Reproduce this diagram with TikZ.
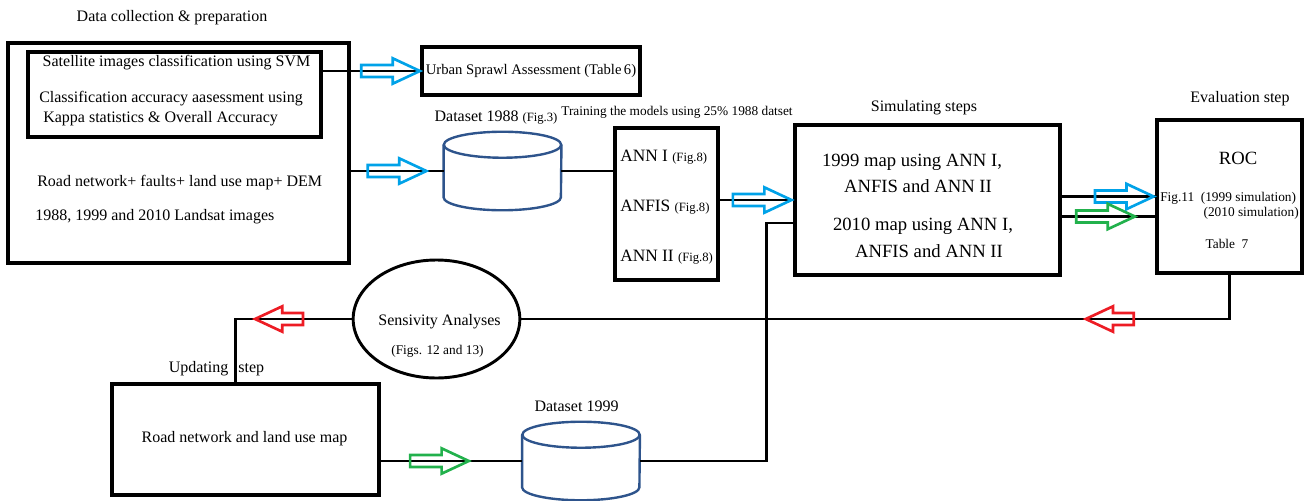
\documentclass[tikz,border=0pt]{standalone}
\usepackage{fontspec}
\setmainfont{Liberation Serif}
\usetikzlibrary{shapes.geometric,shapes.arrows,fit,calc}
\definecolor{paintblue}{RGB}{0,162,232}
\definecolor{paintgreen}{RGB}{34,177,76}
\definecolor{paintred}{RGB}{237,28,36}
\definecolor{dbblue}{RGB}{46,84,140}
\newcommand{\figsmall}[1]{{\fontsize{9.5}{11}\selectfont #1}}
\newcommand{\dbdraw}[1]{%
  \draw[dbline] ($(#1.north)+(0,13)$) ellipse [x radius=44pt, y radius=9.75pt];
  \draw[dbline] ($(#1.north west)+(0,13)$) -- ($(#1.south west)+(0,-13)$)
    arc[start angle=180, end angle=360, x radius=44pt, y radius=9.75pt] -- ($(#1.north east)+(0,13)$);
}
\begin{document}
\begin{tikzpicture}[x=0.75pt, y=-0.75pt,
    box/.style={draw, line width=2.6pt, inner sep=0pt},
    conn/.style={line width=2.2pt},
    txt/.style={font=\fontsize{12}{14}\selectfont, inner sep=0pt},
    bigtxt/.style={font=\fontsize{14}{17}\selectfont, inner sep=0pt},
    smalltxt/.style={font=\fontsize{10}{12}\selectfont, inner sep=0pt},
    database/.style={rectangle, minimum width=88pt, minimum height=58.5pt, inner sep=0pt},
    dbline/.style={draw=dbblue, line width=1.8pt},
    hollow/.style={single arrow, draw=#1, line width=2pt, inner xsep=0pt, inner ysep=3.5pt, minimum height=44pt, single arrow head extend=5pt, single arrow tip angle=50},
    ]
  \useasboundingbox (0,0) rectangle (1307,500);

  \node[box, fit={(8,43) (349,263)}] (collect) {};
  \node[box, fit={(28,52) (321,137)}] (prep) {};
  \node[box, fit={(422,47) (640,95)}, label={[inner sep=0pt, font=\fontsize{11}{13}\selectfont]center:Urban Sprawl Assessment (Table\,6)}] (urban) {};
  \node[database] (db88) at (502.5,171) {};
  \dbdraw{db88}
  \node[box, fit={(615,128) (718,280)}] (ann) {};
  \node[box, fit={(795,125) (1060,275)}] (sim) {};
  \node[box, fit={(1157,120) (1302,273)}] (roc) {};
  \node[ellipse, draw, line width=2.2pt, minimum width=125pt, minimum height=88.5pt, inner sep=0pt] (sens) at (436.5,319) {};
  \node[box, fit={(112,384) (379,495)}] (road) {};
  \node[database] (db99) at (581,461) {};
  \dbdraw{db99}

  \node[txt] (t-collect) at (172,18) {Data collection \& preparation};
  \node[txt] (t-svm) at (176.5,63) {Satellite images classification using SVM};
  \node[txt, anchor=west] (t-acc) at (39,99) {Classification accuracy aasessment using};
  \node[txt, anchor=west] (t-kappa) at (43,119) {Kappa statistics \& Overall Accuracy};
  \node[txt, anchor=west] (t-road) at (37,183) {Road network+ faults+ land use map+ DEM};
  \node[txt, anchor=west] (t-landsat) at (35,217) {1988, 1999 and 2010 Landsat images};
  \node[txt] (t-db88) at (496,118) {Dataset 1988 \figsmall{(Fig.3)}};
  \node[smalltxt] (t-train) at (677,112) {Training the models using 25\% 1988 datset};
  \node[font=\fontsize{13}{15}\selectfont, anchor=west, inner sep=0pt] (t-ann1) at (620,157) {ANN I \figsmall{(Fig.8)}};
  \node[font=\fontsize{13}{15}\selectfont, anchor=west, inner sep=0pt] (t-anfis) at (620,207) {ANFIS \figsmall{(Fig.8)}};
  \node[font=\fontsize{13}{15}\selectfont, anchor=west, inner sep=0pt] (t-ann2) at (620,257) {ANN II \figsmall{(Fig.8)}};
  \node[txt] (t-sim) at (924,108) {Simulating steps};
  \node[bigtxt] (t-map99a) at (912,162) {1999 map using ANN I,};
  \node[bigtxt] (t-map99b) at (918,186) {ANFIS and ANN II};
  \node[bigtxt] (t-map10a) at (923,226) {2010 map using ANN I,};
  \node[bigtxt] (t-map10b) at (929,251) {ANFIS and ANN II};
  \node[txt] (t-eval) at (1240,99) {Evaluation step};
  \node[bigtxt] (t-roc) at (1238,158) {ROC};
  \node[smalltxt, anchor=west] (t-fig11) at (1160,198) {Fig.11\ \ (1999 simulation)};
  \node[smalltxt, anchor=east] (t-sim10) at (1299,213) {(2010 simulation)};
  \node[smalltxt] (t-tab7) at (1227,244) {Table\ \ 7};
  \node[txt] (t-sens) at (439.5,322) {Sensivity Analyses};
  \node[smalltxt] (t-figs) at (437.5,351) {(Figs. 12 and 13)};
  \node[txt] (t-upd) at (216.5,369) {Updating\hspace{7.5pt}step};
  \node[txt] (t-roadmap) at (244.5,439) {Road network and land use map};
  \node[txt] (t-db99) at (576.5,406) {Dataset 1999};

  \draw[conn] (prep.east |- urban.west) -- node[hollow=paintblue, pos=.63] {} (urban.west);
  \draw[conn] (collect.east |- db88.west) -- node[hollow=paintblue, pos=.43] {} (db88.west);
  \draw[conn] (db88.east) -- (db88.east -| ann.west);
  \draw[conn] (ann.east |- sim.west) -- node[hollow=paintblue, pos=.49] {} (sim.west);
  \draw[conn] (sim.east |- roc.west) -- node[hollow=paintblue, pos=.6] {} (roc.west);
  \coordinate (roc-in) at ($(roc.west)+(0,20)$);
  \draw[conn] (sim.east |- roc-in) -- node[hollow=paintgreen, pos=.4] {} (roc-in);
  \draw[conn] (roc.south) |- node[hollow=paintred, shape border rotate=180, minimum height=36pt, pos=.58] {} (sens.east);
  \coordinate (road-in) at ($(road.north)+(-10,0)$);
  \draw[conn] (sens.west) -| node[hollow=paintred, shape border rotate=180, minimum height=36pt, pos=.285] {} (road-in);
  \draw[conn] (road.east |- db99.west) -- node[hollow=paintgreen, pos=.37] {} (db99.west);
  \coordinate (sim-in) at ($(sim.west)+(0,23)$);
  \draw[conn] (db99.east) -| ($(sim-in)+(-27,0)$) -- (sim-in);
\end{tikzpicture}
\end{document}
